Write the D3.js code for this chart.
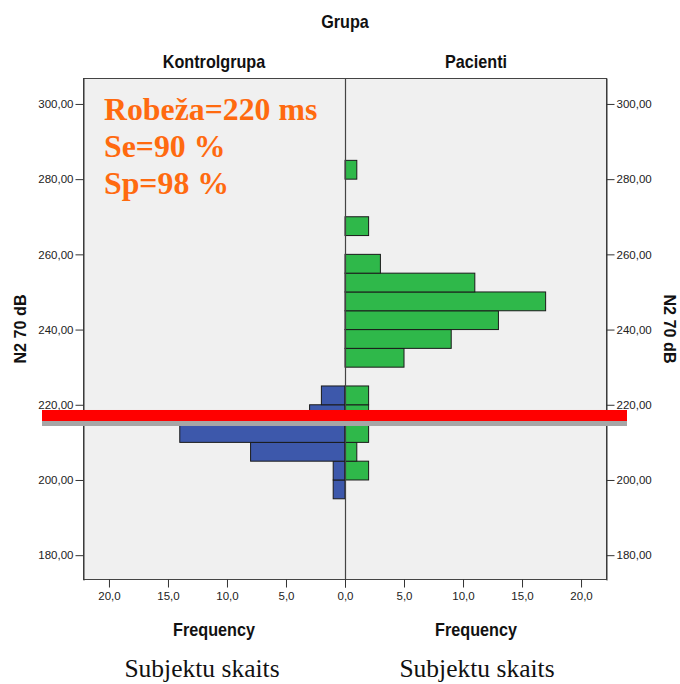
<!DOCTYPE html>
<html>
<head>
<meta charset="utf-8">
<script src="https://cdn.jsdelivr.net/npm/d3@7"></script>
<style>
  html, body { margin: 0; padding: 0; background: #ffffff; }
  svg { display: block; }
</style>
</head>
<body>
<svg id="chart" width="680" height="684"></svg>
<script>
// Histogram bins (lower edge, width 5) and frequency per group
const binStarts = [195, 200, 205, 210, 215, 220, 225, 230, 235, 240, 245, 250, 255, 260, 265, 270, 275, 280];
const kontrolgrupa = [1, 1, 8, 14, 3, 2, 0, 0, 0, 0, 0, 0, 0, 0, 0, 0, 0, 0];
const pacienti     = [0, 2, 1, 2, 2, 2, 0, 5, 9, 13, 17, 11, 3, 0, 2, 0, 0, 1];
const binWidth = 5;

const groupNames = ["Kontrolgrupa", "Pacienti"];
const yTicks = [180, 200, 220, 240, 260, 280, 300];
const xTicks = [0, 5, 10, 15, 20];

// Threshold annotation
const annotationLines = ["Robeža=220 ms", "Se=90 %", "Sp=98 %"];
const cutLineValue = 217.15;

const svg = d3.select("#chart");

const plot = { left: 83, right: 607, top: 78, bottom: 580 };
const zeroX = 345;

const y = d3.scaleLinear().domain([173.4, 306.9]).range([plot.bottom, plot.top]);
const xLeft = d3.scaleLinear().domain([22.2, 0]).range([plot.left, zeroX]);
const xRight = d3.scaleLinear().domain([0, 22.2]).range([zeroX, plot.right]);

const commaFmt = (digits) => (d) => d3.format("." + digits + "f")(d).replace(".", ",");

// Panel background
svg.append("rect")
  .attr("x", plot.left).attr("y", plot.top)
  .attr("width", plot.right - plot.left).attr("height", plot.bottom - plot.top)
  .attr("fill", "#f0f0f0");

// Bars
const rows = binStarts.map((b, i) => ({ lo: b, hi: b + binWidth, k: kontrolgrupa[i], p: pacienti[i] }));

svg.append("g").selectAll("rect")
  .data(rows.filter(r => r.k > 0))
  .join("rect")
  .attr("x", r => xLeft(r.k))
  .attr("y", r => y(r.hi))
  .attr("width", r => zeroX - xLeft(r.k))
  .attr("height", r => y(r.lo) - y(r.hi))
  .attr("fill", "#3d58ab")
  .attr("stroke", "#1a1a1a")
  .attr("stroke-width", 1);

svg.append("g").selectAll("rect")
  .data(rows.filter(r => r.p > 0))
  .join("rect")
  .attr("x", zeroX)
  .attr("y", r => y(r.hi))
  .attr("width", r => xRight(r.p) - zeroX)
  .attr("height", r => y(r.lo) - y(r.hi))
  .attr("fill", "#2fb84a")
  .attr("stroke", "#1a1a1a")
  .attr("stroke-width", 1);

// Frame and divider
svg.append("rect")
  .attr("x", plot.left + 0.5).attr("y", plot.top + 0.5)
  .attr("width", plot.right - plot.left - 1).attr("height", plot.bottom - plot.top - 1)
  .attr("fill", "none").attr("stroke", "#444").attr("stroke-width", 1);
svg.append("line")
  .attr("x1", zeroX + 0.5).attr("x2", zeroX + 0.5)
  .attr("y1", plot.top).attr("y2", plot.bottom)
  .attr("stroke", "#444").attr("stroke-width", 1.2);

// Axes
function styleAxis(g) {
  g.select(".domain").attr("stroke", "#333");
  g.selectAll(".tick line").attr("stroke", "#333");
  g.selectAll(".tick text")
    .attr("fill", "#222")
    .style("font-family", "Arial, 'Liberation Sans', sans-serif")
    .style("font-size", "11.5px");
}

svg.append("g")
  .attr("transform", `translate(${plot.left + 0.5},0)`)
  .call(d3.axisLeft(y).tickValues(yTicks).tickFormat(commaFmt(2)).tickSize(8).tickSizeOuter(0).tickPadding(2))
  .call(styleAxis);

svg.append("g")
  .attr("transform", `translate(${plot.right - 0.5},0)`)
  .call(d3.axisRight(y).tickValues(yTicks).tickFormat(commaFmt(2)).tickSize(8).tickSizeOuter(0).tickPadding(2))
  .call(styleAxis);

svg.append("g")
  .attr("transform", `translate(0,${plot.bottom - 0.5})`)
  .call(d3.axisBottom(xLeft).tickValues(xTicks).tickFormat(commaFmt(1)).tickSize(8).tickSizeOuter(0).tickPadding(4))
  .call(styleAxis)
  .call(g => g.select(".domain").remove());

// The shared zero tick is labelled once, by the left panel
svg.append("g")
  .attr("transform", `translate(0,${plot.bottom - 0.5})`)
  .call(d3.axisBottom(xRight).tickValues(xTicks).tickFormat(d => d === 0 ? "" : commaFmt(1)(d)).tickSize(8).tickSizeOuter(0).tickPadding(4))
  .call(styleAxis)
  .call(g => g.select(".domain").remove());

// Bold sans labels (slightly tall)
function boldLabel(text, x, yy, rotate, sy) {
  svg.append("text")
    .attr("transform", `translate(${x},${yy}) rotate(${rotate || 0}) scale(1,${sy || 1.12})`)
    .attr("text-anchor", "middle")
    .style("font-family", "Arial, 'Liberation Sans', sans-serif")
    .style("font-weight", "bold")
    .style("font-size", "16.2px")
    .attr("fill", "#111")
    .text(text);
}

const leftCenter = (plot.left + zeroX) / 2;
const rightCenter = (zeroX + plot.right) / 2;

boldLabel("Grupa", zeroX, 28);
boldLabel(groupNames[0], leftCenter, 68);
boldLabel(groupNames[1], rightCenter, 68);
boldLabel("Frequency", leftCenter, 636);
boldLabel("Frequency", rightCenter, 636);
boldLabel("N2 70 dB", 26, (plot.top + plot.bottom) / 2, -90, 1.05);
boldLabel("N2 70 dB", 664, (plot.top + plot.bottom) / 2, 90, 1.05);

// Bottom serif captions
[leftCenter - 12, rightCenter + 1].forEach(cx => {
  svg.append("text")
    .attr("x", cx).attr("y", 677)
    .attr("text-anchor", "middle")
    .style("font-family", "'Times New Roman', 'Liberation Serif', serif")
    .style("font-size", "25.5px")
    .attr("fill", "#111")
    .text("Subjektu skaits");
});

// Threshold line with drop shadow
const cutY = y(cutLineValue);
const lineH = 11;
svg.append("rect")
  .attr("x", plot.left - 41).attr("y", cutY - lineH / 2 + 5)
  .attr("width", plot.right - plot.left + 61).attr("height", lineH)
  .attr("fill", "#a6a6a6");
svg.append("rect")
  .attr("x", plot.left - 41).attr("y", cutY - lineH / 2)
  .attr("width", plot.right - plot.left + 61).attr("height", lineH)
  .attr("fill", "#ff0000");

// Orange annotation
const ann = svg.append("text")
  .style("font-family", "'Times New Roman', 'Liberation Serif', serif")
  .style("font-weight", "bold")
  .style("font-size", "31.8px")
  .attr("fill", "#ff6a0f");
annotationLines.forEach((t, i) => {
  ann.append("tspan").attr("x", 104).attr("y", 120 + i * 37).text(t);
});
</script>
</body>
</html>
